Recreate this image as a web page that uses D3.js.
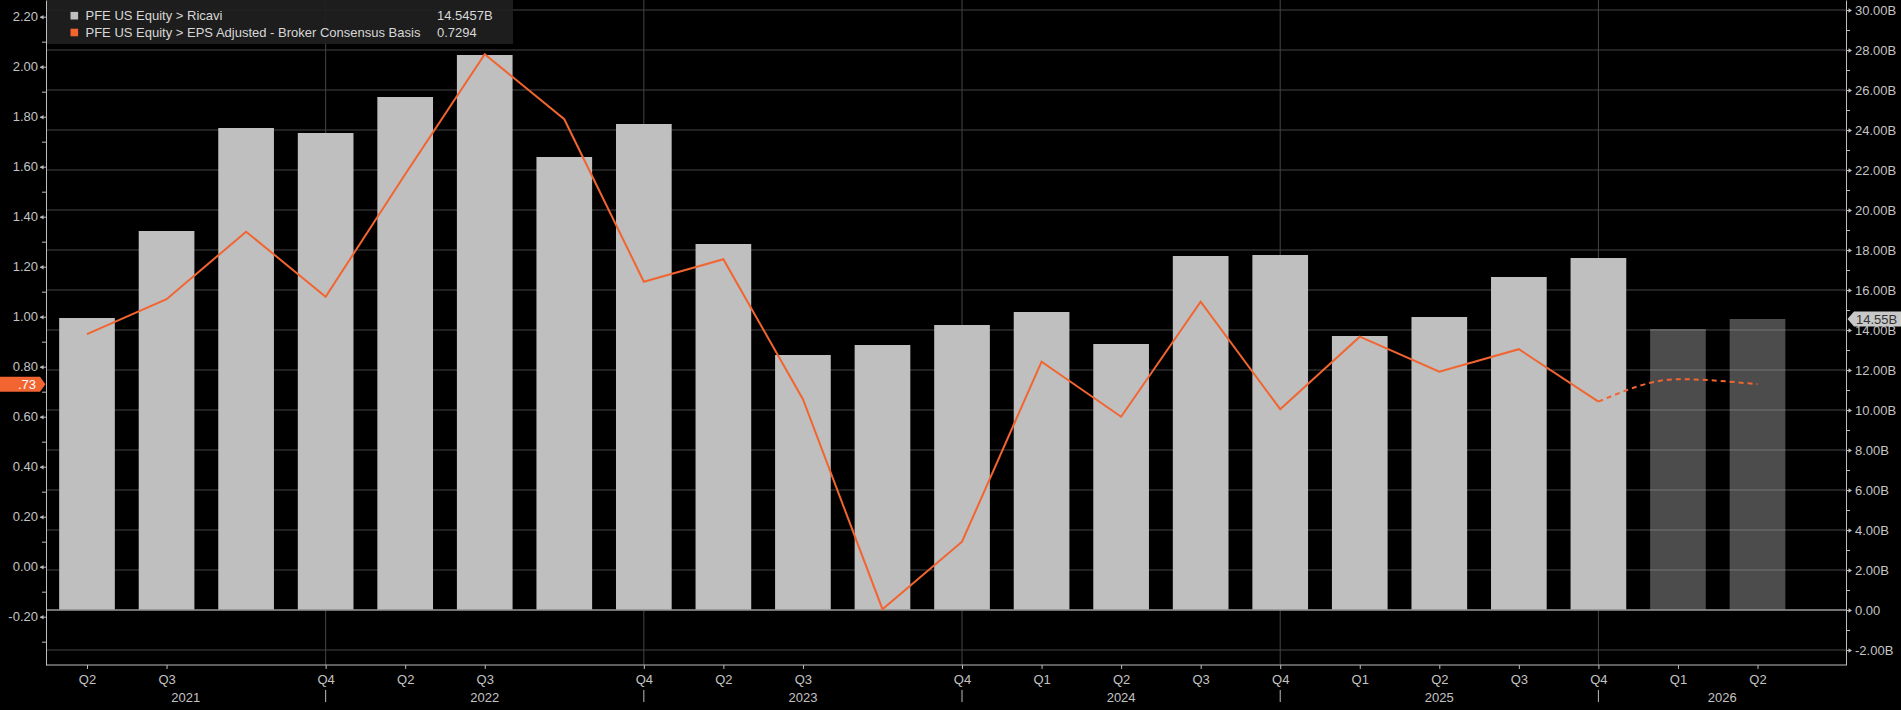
<!DOCTYPE html>
<html>
<head>
<meta charset="utf-8">
<script src="https://cdn.jsdelivr.net/npm/d3@7"></script>
<style>
  html, body { margin: 0; padding: 0; background: #000; }
  svg { display: block; }
  text { font-family: "Liberation Sans", Arial, sans-serif; font-size: 13px; }
</style>
</head>
<body>
<svg id="chart" width="1901" height="710"></svg>
<script>
// PFE: Ricavi trimestrali (barre, asse destro) + EPS Adjusted (linea, asse sinistro)

// Etichette trimestri (vuoto = nessuna etichetta sotto la barra)
const quarterLabels = ["Q2", "Q3", "", "Q4", "Q2", "Q3", "", "Q4", "Q2", "Q3", "", "Q4",
                       "Q1", "Q2", "Q3", "Q4", "Q1", "Q2", "Q3", "Q4", "Q1", "Q2"];
const yearLabels = ["2021", "2022", "2023", "2024", "2025", "2026"];

// Ricavi in miliardi USD
const revenue = [14.6, 18.95, 24.1, 23.85, 25.65, 27.75, 22.65, 24.3, 18.3, 12.75, 13.25,
                 14.25, 14.9, 13.3, 17.7, 17.75, 13.7, 14.65, 16.65, 17.6, 14.05, 14.55];
// Stime (barre scure, linea tratteggiata)
const estimated = [false, false, false, false, false, false, false, false, false, false, false,
                   false, false, false, false, false, false, false, false, false, true, true];

// EPS adjusted
const eps = [0.93, 1.07, 1.34, 1.08, 1.57, 2.05, 1.79, 1.14, 1.23, 0.67, -0.17,
             0.10, 0.82, 0.60, 1.06, 0.63, 0.92, 0.78, 0.87, 0.66, 0.75, 0.73];

// Assi
const epsTicks = [-0.2, 0, 0.2, 0.4, 0.6, 0.8, 1.0, 1.2, 1.4, 1.6, 1.8, 2.0, 2.2];
const epsMinorTicks = [-0.3, -0.1, 0.1, 0.3, 0.5, 0.7, 0.9, 1.1, 1.3, 1.5, 1.7, 1.9, 2.1];
const revenueTicks = [-2, 0, 2, 4, 6, 8, 10, 12, 14, 16, 18, 20, 22, 24, 26, 28, 30];
const revenueMinorTicks = [-1, 1, 3, 5, 7, 9, 11, 13, 15, 17, 19, 21, 23, 25, 27, 29];

// Legenda
const legendNames = ["PFE US Equity > Ricavi", "PFE US Equity > EPS Adjusted - Broker Consensus Basis"];
const legendValues = ["14.5457B", "0.7294"];
const lastRevenueLabel = "14.55B";
const lastEpsLabel = ".73";

// Colori
const BAR_COLOR = "#bfbfbf";
const LINE_COLOR = "#f26430";
const AXIS_COLOR = "#bdbdbd";
const GRID_COLOR = "#454545";
const TEXT_COLOR = "#c4c4c4";

const plot = { left: 46, right: 1846, top: 0, bottom: 665 };
const svg = d3.select("#chart");

const x = d3.scaleLinear().domain([0, revenue.length - 1]).range([87, 1757.5]);
const step = x(1) - x(0);
const barWidth = step * 0.7;

const yLeft = d3.scaleLinear().domain([-0.3932, 2.2668]).range([plot.bottom, plot.top]);
const yRight = d3.scaleLinear().domain([-2.75, 30.5]).range([plot.bottom, plot.top]);

// Confini degli anni (posizioni Q4)
const q4Index = quarterLabels.map((q, i) => q === "Q4" ? i : -1).filter(i => i >= 0);
const boundaries = [plot.left, ...q4Index.map(i => x(i)), plot.right];

// Griglia orizzontale
svg.append("g")
    .selectAll("line")
    .data(revenueTicks)
    .join("line")
    .attr("x1", plot.left).attr("x2", plot.right)
    .attr("y1", d => yRight(d)).attr("y2", d => yRight(d))
    .attr("stroke", GRID_COLOR)
    .attr("stroke-width", 1);

// Griglia verticale (inizio anno)
svg.append("g")
    .selectAll("line")
    .data(q4Index)
    .join("line")
    .attr("x1", d => x(d)).attr("x2", d => x(d))
    .attr("y1", plot.top).attr("y2", plot.bottom)
    .attr("stroke", GRID_COLOR);

// Barre ricavi
svg.append("g")
    .selectAll("rect")
    .data(revenue)
    .join("rect")
    .attr("x", (d, i) => x(i) - barWidth / 2)
    .attr("width", barWidth)
    .attr("y", d => yRight(d))
    .attr("height", d => yRight(0) - yRight(d))
    .attr("fill", BAR_COLOR)
    .attr("fill-opacity", (d, i) => estimated[i] ? 0.4 : 1);

// Linea dello zero (asse destro)
svg.append("line")
    .attr("x1", plot.left).attr("x2", plot.right)
    .attr("y1", yRight(0)).attr("y2", yRight(0))
    .attr("stroke", "#8f8f8f")
    .attr("stroke-width", 1.5);

// Linea EPS: effettivi continui, stime tratteggiate
const epsPoints = eps.map((v, i) => ({ i, v }));
const firstEstimate = estimated.indexOf(true);
const actualPts = epsPoints.slice(0, firstEstimate);
const estimatePts = epsPoints.slice(firstEstimate - 1);

svg.append("path")
    .datum(actualPts)
    .attr("fill", "none")
    .attr("stroke", LINE_COLOR)
    .attr("stroke-width", 2)
    .attr("stroke-linejoin", "miter")
    .attr("d", d3.line().x(d => x(d.i)).y(d => yLeft(d.v)));

svg.append("path")
    .datum(estimatePts)
    .attr("fill", "none")
    .attr("stroke", LINE_COLOR)
    .attr("stroke-width", 2)
    .attr("stroke-dasharray", "5,4")
    .attr("d", d3.line().curve(d3.curveMonotoneX).x(d => x(d.i)).y(d => yLeft(d.v)));

// Asse sinistro (EPS)
const leftAxis = svg.append("g")
    .attr("transform", `translate(${plot.left},0)`)
    .call(d3.axisLeft(yLeft).tickValues(epsTicks).tickFormat(d => d.toFixed(2))
        .tickSize(6).tickSizeOuter(0).tickPadding(2));
svg.append("g")
    .attr("transform", `translate(${plot.left},0)`)
    .call(d3.axisLeft(yLeft).tickValues(epsMinorTicks).tickFormat("").tickSize(4).tickSizeOuter(0))
    .call(g => g.select(".domain").remove());
leftAxis.selectAll(".tick").append("path")
    .attr("d", "M-6,0L-2.5,-2.3L-2.5,2.3Z")
    .attr("fill", AXIS_COLOR);

// Asse destro (Ricavi)
const rightAxis = svg.append("g")
    .attr("transform", `translate(${plot.right},0)`)
    .call(d3.axisRight(yRight).tickValues(revenueTicks)
        .tickFormat(d => d === 0 ? "0.00" : d.toFixed(2) + "B")
        .tickSize(5).tickSizeOuter(0).tickPadding(4));
svg.append("g")
    .attr("transform", `translate(${plot.right},0)`)
    .call(d3.axisRight(yRight).tickValues(revenueMinorTicks).tickFormat("").tickSize(4).tickSizeOuter(0))
    .call(g => g.select(".domain").remove());
rightAxis.selectAll(".tick").append("path")
    .attr("d", "M6,0L2.5,-2.3L2.5,2.3Z")
    .attr("fill", AXIS_COLOR);

// Asse inferiore (trimestri)
const labelled = quarterLabels.map((q, i) => i).filter(i => quarterLabels[i] !== "");
svg.append("g")
    .attr("transform", `translate(0,${plot.bottom})`)
    .call(d3.axisBottom(x).tickValues(labelled).tickFormat(i => quarterLabels[i])
        .tickSize(4).tickSizeOuter(0).tickPadding(6))
    .call(g => g.select(".domain").remove());

svg.append("line")
    .attr("x1", plot.left).attr("x2", plot.right)
    .attr("y1", plot.bottom).attr("y2", plot.bottom)
    .attr("stroke", AXIS_COLOR);

// Stile assi
svg.selectAll(".domain, .tick line").attr("stroke", AXIS_COLOR);
svg.selectAll(".tick text").attr("fill", TEXT_COLOR).style("font-size", "13px")
    .style("font-family", "\"Liberation Sans\", Arial, sans-serif");

// Etichette anni, centrate tra i confini
svg.append("g")
    .selectAll("text")
    .data(yearLabels)
    .join("text")
    .attr("x", (d, i) => (boundaries[i] + boundaries[i + 1]) / 2)
    .attr("y", 702)
    .attr("text-anchor", "middle")
    .attr("fill", TEXT_COLOR)
    .text(d => d);

// Separatori anni sotto gli assi
svg.append("g")
    .selectAll("line")
    .data(q4Index)
    .join("line")
    .attr("x1", d => x(d)).attr("x2", d => x(d))
    .attr("y1", 690).attr("y2", 702)
    .attr("stroke", AXIS_COLOR);

// Legenda
const legend = svg.append("g");
legend.append("rect")
    .attr("x", plot.left + 1).attr("y", 0)
    .attr("width", 466).attr("height", 44)
    .attr("fill", "#202020").attr("fill-opacity", 0.92);

const legendColors = [BAR_COLOR, LINE_COLOR];
legendNames.forEach((name, i) => {
    const cy = 15.7 + i * 16.8;
    legend.append("rect")
        .attr("x", 70.5).attr("y", cy - 3.8)
        .attr("width", 7.6).attr("height", 7.6)
        .attr("fill", legendColors[i]);
    legend.append("text")
        .attr("x", 85.5).attr("y", cy + 4.5)
        .attr("fill", "#d8d8d8")
        .text(name);
    legend.append("text")
        .attr("x", 437).attr("y", cy + 4.5)
        .attr("fill", "#d8d8d8")
        .text(legendValues[i]);
});

// Marcatore ultimo valore EPS (sinistra)
const epsY = yLeft(eps[eps.length - 1]);
svg.append("path")
    .attr("d", `M0,${epsY - 7.5}H40L45.5,${epsY}L40,${epsY + 7.5}H0Z`)
    .attr("fill", LINE_COLOR);
svg.append("text")
    .attr("x", 36).attr("y", epsY + 4.6)
    .attr("text-anchor", "end")
    .attr("fill", "#ffffff")
    .text(lastEpsLabel);

// Marcatore ultimo valore ricavi (destra)
const revY = yRight(revenue[revenue.length - 1]);
svg.append("path")
    .attr("d", `M${plot.right + 1.5},${revY}L${plot.right + 8},${revY - 7.5}H1901V${revY + 7.5}H${plot.right + 8}Z`)
    .attr("fill", "#c8c8c8");
svg.append("text")
    .attr("x", plot.right + 10).attr("y", revY + 4.6)
    .attr("fill", "#333333")
    .text(lastRevenueLabel);
</script>
</body>
</html>
